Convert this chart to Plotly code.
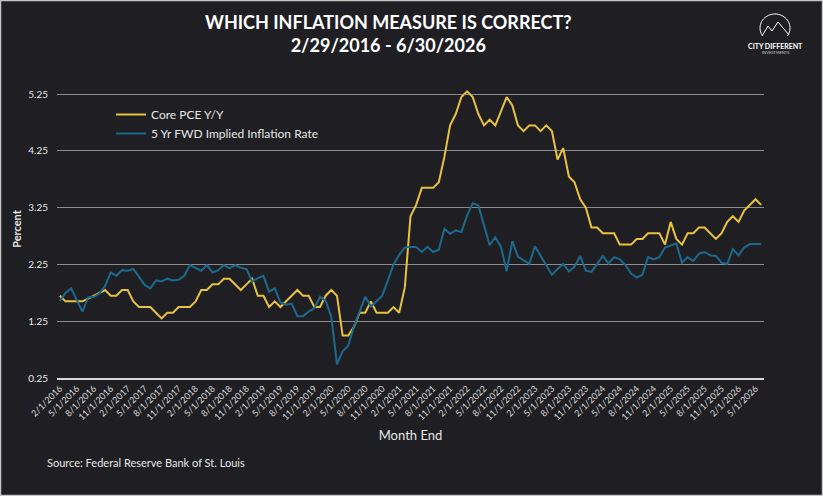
import math
import pandas as pd
import plotly.graph_objects as go

# month-end labels, Feb 2016 .. Jun 2026
months = [f"{d.month}/1/{d.year}" for d in pd.date_range("2016-02-01", "2026-06-01", freq="MS")]

core_pce = [
    1.7, 1.6, 1.6, 1.6, 1.6, 1.65, 1.7, 1.75, 1.8, 1.7,
    1.7, 1.8, 1.8, 1.6, 1.5, 1.5, 1.5, 1.4, 1.3, 1.4,
    1.4, 1.5, 1.5, 1.5, 1.6, 1.8, 1.8, 1.9, 1.9, 2.0,
    2.0, 1.9, 1.8, 1.9, 2.0, 1.7, 1.7, 1.5, 1.6, 1.5,
    1.6, 1.7, 1.8, 1.7, 1.7, 1.5, 1.5, 1.7, 1.8, 1.7,
    1.0, 1.0, 1.15, 1.4, 1.4, 1.6, 1.4, 1.4, 1.4, 1.5,
    1.4, 1.85, 3.1, 3.3, 3.6, 3.6, 3.6, 3.7, 4.15, 4.7,
    4.9, 5.2, 5.3, 5.2, 4.9, 4.7, 4.8, 4.7, 4.95, 5.2,
    5.05, 4.7, 4.6, 4.7, 4.7, 4.6, 4.7, 4.6, 4.1, 4.3,
    3.8, 3.7, 3.4, 3.25, 2.9, 2.9, 2.8, 2.8, 2.8, 2.6,
    2.6, 2.6, 2.7, 2.7, 2.8, 2.8, 2.8, 2.6, 3.0, 2.7,
    2.6, 2.8, 2.8, 2.9, 2.9, 2.8, 2.7, 2.8, 3.0, 3.1,
    3.0, 3.2, 3.3, 3.4, 3.3,
]

fwd_5y = [
    1.61, 1.75, 1.83, 1.61, 1.42, 1.67, 1.68, 1.74, 1.87, 2.11,
    2.05, 2.15, 2.14, 2.17, 2.04, 1.89, 1.83, 1.97, 1.95, 2.00,
    1.97, 1.98, 2.05, 2.24, 2.19, 2.14, 2.24, 2.11, 2.15, 2.24,
    2.18, 2.24, 2.19, 2.17, 1.95, 2.01, 2.05, 1.77, 1.83, 1.58,
    1.54, 1.56, 1.34, 1.34, 1.42, 1.48, 1.68, 1.61, 1.33, 0.49,
    0.72, 0.82, 1.16, 1.42, 1.68, 1.51, 1.60, 1.70, 1.97, 2.25,
    2.42, 2.55, 2.56, 2.56, 2.47, 2.56, 2.47, 2.51, 2.88, 2.79,
    2.85, 2.82, 3.11, 3.33, 3.29, 2.94, 2.59, 2.73, 2.56, 2.13,
    2.66, 2.39, 2.33, 2.26, 2.57, 2.41, 2.23, 2.07, 2.17, 2.26,
    2.13, 2.21, 2.40, 2.14, 2.12, 2.26, 2.40, 2.27, 2.38, 2.34,
    2.24, 2.09, 2.02, 2.07, 2.38, 2.34, 2.38, 2.55, 2.58, 2.62,
    2.28, 2.38, 2.31, 2.44, 2.47, 2.41, 2.40, 2.28, 2.26, 2.52,
    2.41, 2.55, 2.61, 2.61, 2.61,
]

y_ticks = [0.25, 1.25, 2.25, 3.25, 4.25, 5.25]

BG = "#1f1f23"
YELLOW = "#e8c13e"
BLUE = "#1b6a8e"
FONT = "Lato"

W, H = 823, 496
ML, MR, MT, MB = 57, 59, 80, 118
PW, PH = W - ML - MR, H - MT - MB


def px(x):
    return (x - ML) / PW


def py(y):
    return (H - MB - y) / PH


fig = go.Figure()
fig.add_trace(go.Scatter(x=months, y=core_pce, mode="lines", name="Core PCE Y/Y",
                         line=dict(color=YELLOW, width=2)))
fig.add_trace(go.Scatter(x=months, y=fwd_5y, mode="lines", name="5 Yr FWD Implied Inflation Rate",
                         line=dict(color=BLUE, width=2)))

# logo: open circle with mountain
arc = []
for k in range(0, 41):
    a = math.radians(215 - k * 250 / 40)
    arc.append((775 + 15 * math.cos(a), 28 - 14 * math.sin(a)))
arc_path = "M " + " L ".join(f"{px(x):.4f},{py(y):.4f}" for x, y in arc)
mtn = [(762, 36), (768, 26), (772, 31), (778, 22), (789, 35)]
mtn_path = "M " + " L ".join(f"{px(x):.4f},{py(y):.4f}" for x, y in mtn)

fig.update_layout(
    width=W, height=H,
    paper_bgcolor=BG, plot_bgcolor=BG,
    margin=dict(l=ML, r=MR, t=MT, b=MB),
    font=dict(family=FONT, color="#e6e6e6", size=10),
    showlegend=True,
    legend=dict(x=px(111), y=py(100), xanchor="left", yanchor="top",
                bgcolor="rgba(0,0,0,0)", font=dict(size=12, color="#e6e6e6"),
                tracegroupgap=0, itemwidth=30),
    xaxis=dict(type="category", range=[-0.5, len(months) - 0.5],
               tickmode="array", tickvals=months[::3], ticktext=months[::3],
               tickangle=-45, tickfont=dict(size=9, color="#d8d8d8"),
               showgrid=False, showline=True, linecolor="#d8d8d8", linewidth=1.5,
               ticks="", title=dict(text="Month End", font=dict(size=13, color="#e6e6e6"), standoff=10)),
    yaxis=dict(range=[0.25, 5.5], tickmode="array", tickvals=y_ticks,
               ticktext=[f"{v:.2f}" for v in y_ticks],
               tickfont=dict(size=10, color="#e6e6e6"),
               showgrid=True, gridcolor="#8c8c8c", gridwidth=1, zeroline=False,
               ticks="", ticklabelstandoff=8,
               title=dict(text="<b>Percent</b>", font=dict(size=11, color="#e6e6e6"), standoff=4)),
    annotations=[
        dict(text="<b>WHICH INFLATION MEASURE IS CORRECT?<br>2/29/2016 - 6/30/2026</b>",
             xref="paper", yref="paper", x=px(388), y=py(9), xanchor="center", yanchor="top",
             showarrow=False, font=dict(size=18, color="#ffffff", family=FONT)),
        dict(text="Source: Federal Reserve Bank of St. Louis",
             xref="paper", yref="paper", x=px(45), y=py(463), xanchor="left", yanchor="middle",
             showarrow=False, font=dict(size=11, color="#e6e6e6")),
        dict(text="<b>CITY DIFFERENT</b>", xref="paper", yref="paper", x=px(775), y=py(46),
             xanchor="center", yanchor="middle", showarrow=False,
             font=dict(size=7, color="#ffffff")),
        dict(text="INVESTMENTS", xref="paper", yref="paper", x=px(775), y=py(53),
             xanchor="center", yanchor="middle", showarrow=False,
             font=dict(size=4, color="#cccccc")),
    ],
    shapes=[
        dict(type="path", path=arc_path, xref="paper", yref="paper", line=dict(color="#ffffff", width=1)),
        dict(type="path", path=mtn_path, xref="paper", yref="paper", line=dict(color="#ffffff", width=1)),
        dict(type="rect", xref="paper", yref="paper", x0=px(0.5), x1=px(W - 0.5), y0=py(H - 0.5), y1=py(0.5),
             line=dict(color="#c4c4c4", width=1.5), layer="above"),
    ],
)

assert len(core_pce) == len(months) == len(fwd_5y)
fig.write_html("out.html", config={"displayModeBar": False},
               post_script="document.body.style.margin='0';")
